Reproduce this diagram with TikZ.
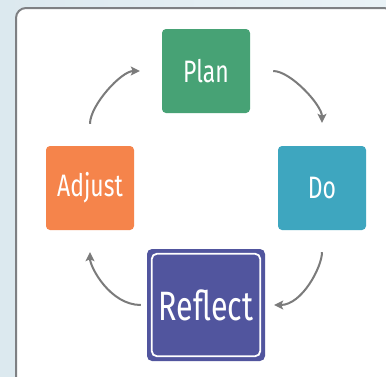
\documentclass[tikz,border=0pt]{standalone}
\usepackage{fontspec}
\newfontfamily\boxfont[FakeStretch=0.74]{Fira Sans}
\usetikzlibrary{positioning,arrows.meta}
\definecolor{plangreen}{RGB}{71,162,117}
\definecolor{doteal}{RGB}{62,166,191}
\definecolor{adjorange}{RGB}{245,132,75}
\definecolor{refpurple}{RGB}{81,85,158}
\definecolor{arrgray}{RGB}{123,123,123}
\definecolor{framegray}{RGB}{126,128,131}
\definecolor{bgleft}{RGB}{220,233,239}
\definecolor{bgright}{RGB}{233,242,246}
\tikzset{
  stage/.style={rectangle, rounded corners=4pt, minimum width=88pt, minimum height=84pt,
    text=white, font=\boxfont\fontsize{31}{32}\selectfont},
  cycarrow/.style={draw=arrgray, line width=2pt, -{Stealth[length=9pt,width=9pt,inset=2pt]}}
}
\begin{document}
\begin{tikzpicture}[node distance=117pt]
  \useasboundingbox (0,0) rectangle (386pt,-376pt);
  \clip (0,0) rectangle (386pt,-376pt);
  \shade[left color=bgleft, right color=bgright] (0,0) rectangle (386pt,-376pt);
  \draw[framegray, fill=white, line width=2pt, rounded corners=10pt] (16pt,-8pt) rectangle (394pt,-388pt);

  \node [stage, fill=plangreen] (plan) at (206pt,-71pt) {Plan};
  \coordinate [below of=plan] (mid);
  \node [stage, fill=doteal, right of=mid, xshift=-1pt] (do) {Do};
  \node [stage, fill=adjorange, left of=mid, xshift=1pt] (adjust) {Adjust};
  \node [stage, fill=refpurple, below of=mid, minimum width=118pt, minimum height=112pt,
    rounded corners=5pt, font=\boxfont\fontsize{41}{42}\selectfont] (reflect) {Reflect};
  \draw[white, line width=1.8pt, rounded corners=5pt]
    ([shift={(5pt,5pt)}]reflect.south west) rectangle ([shift={(-5pt,-5pt)}]reflect.north east);

  \draw[cycarrow, shorten <=23pt, shorten >=23pt] (plan.east) to[out=0,in=90] (do.north);
  \draw[cycarrow, shorten <=22pt, shorten >=9pt] (do.south) to[out=-90,in=0] (reflect.east);
  \draw[cycarrow, shorten <=6pt, shorten >=22pt] (reflect.west) to[out=180,in=-90] (adjust.south);
  \draw[cycarrow, shorten <=22pt, shorten >=22pt] (adjust.north) to[out=90,in=180] (plan.west);
\end{tikzpicture}
\end{document}
